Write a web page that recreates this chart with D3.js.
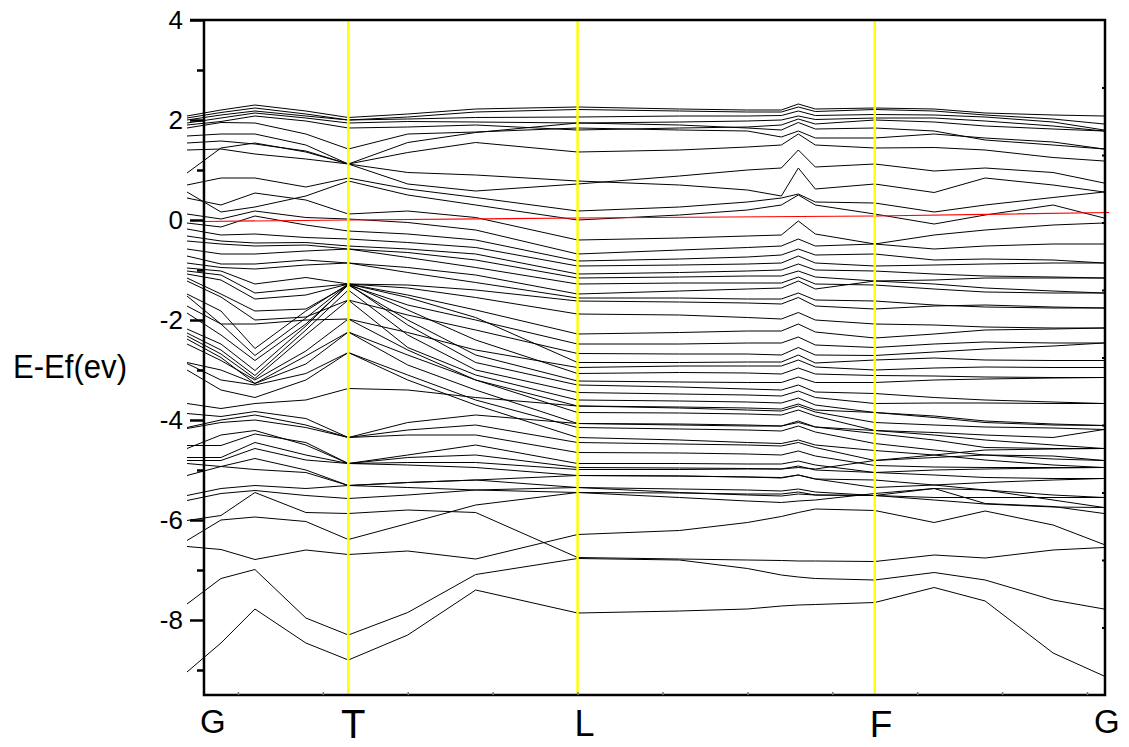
<!DOCTYPE html>
<html>
<head>
<meta charset="utf-8">
<script src="https://cdn.jsdelivr.net/npm/d3@7"></script>
<style>
  body { margin: 0; background: #fff; }
  svg { display: block; }
  text { font-family: "Liberation Sans", Arial, sans-serif; fill: #000; }
</style>
</head>
<body>
<svg id="chart" width="1129" height="747"></svg>
<script>
// k-point positions (index along the path) where band energies were read
var kNodes = [0, 2, 4, 7, 9.5, 13, 17, 23, 29, 33, 35, 36, 37, 40.5, 44, 47, 51, 54];

// band energies (eV, relative to Ef) at each k node
var bands = [
  [2.08, 2.20, 2.30, 2.18, 2.05, 2.12, 2.22, 2.26, 2.22, 2.20, 2.20, 2.32, 2.22, 2.24, 2.22, 2.14, 2.10, 2.08],
  [2.04, 2.15, 2.24, 2.12, 2.00, 2.06, 2.16, 2.21, 2.18, 2.16, 2.16, 2.26, 2.17, 2.21, 2.18, 2.10, 2.02, 1.92],
  [2.00, 2.10, 2.18, 2.08, 2.00, 2.02, 2.05, 2.06, 2.08, 2.08, 2.09, 2.18, 2.09, 2.11, 2.10, 2.06, 1.96, 1.80],
  [1.94, 2.04, 2.14, 2.04, 1.94, 1.97, 1.96, 1.94, 1.96, 1.98, 2.00, 2.08, 2.01, 2.04, 2.04, 1.98, 1.88, 1.78],
  [1.90, 1.97, 2.08, 1.98, 1.84, 1.86, 1.90, 1.80, 1.84, 1.86, 1.90, 2.02, 1.92, 2.00, 1.96, 1.88, 1.82, 1.78],
  [1.84, 1.95, 1.94, 1.72, 1.42, 1.72, 1.76, 1.84, 1.80, 1.78, 1.66, 1.78, 1.64, 1.64, 1.72, 1.64, 1.56, 1.42],
  [1.68, 1.72, 1.72, 1.50, 1.12, 1.35, 1.55, 1.36, 1.40, 1.46, 1.50, 1.72, 1.50, 1.44, 1.45, 1.40, 1.25, 1.18],
  [1.54, 1.58, 1.52, 1.38, 1.12, 1.55, 1.75, 1.94, 1.90, 1.84, 1.80, 1.95, 1.82, 1.84, 1.78, 1.60, 1.50, 1.42],
  [1.40, 1.42, 1.32, 1.22, 1.12, 0.95, 0.90, 0.78, 0.70, 0.60, 0.48, 1.04, 0.62, 0.72, 0.55, 0.84, 0.70, 0.56],
  [0.94, 1.44, 1.54, 1.36, 1.12, 0.72, 0.58, 0.72, 0.88, 1.00, 1.04, 1.40, 1.06, 1.12, 0.98, 1.04, 0.95, 0.74],
  [0.70, 0.84, 0.84, 0.66, 0.84, 0.62, 0.45, 0.18, 0.26, 0.36, 0.44, 0.52, 0.36, 0.34, 0.16, 0.30, 0.45, 0.56],
  [0.56, 0.16, 0.26, 0.48, 0.78, 0.50, 0.30, 0.00, 0.10, 0.20, 0.30, 0.50, 0.30, 0.12, -0.08, 0.10, 0.30, 0.04],
  [0.44, 0.30, 0.54, 0.40, 0.12, 0.18, 0.05, -0.40, -0.36, -0.32, -0.30, -0.02, -0.28, -0.48, -0.30, -0.20, -0.10, -0.06],
  [0.12, 0.02, 0.18, 0.05, 0.02, -0.05, -0.20, -0.68, -0.60, -0.55, -0.52, -0.38, -0.52, -0.48, -0.58, -0.52, -0.48, -0.48],
  [-0.06, -0.14, 0.08, -0.10, -0.22, -0.28, -0.40, -0.82, -0.78, -0.74, -0.70, -0.58, -0.70, -0.68, -0.80, -0.78, -0.80, -0.86],
  [-0.18, -0.30, -0.28, -0.35, -0.38, -0.45, -0.55, -0.92, -0.90, -0.88, -0.86, -0.72, -0.86, -0.92, -0.90, -0.88, -0.86, -0.86],
  [-0.32, -0.42, -0.46, -0.45, -0.52, -0.58, -0.68, -1.08, -1.05, -1.02, -1.00, -0.88, -1.00, -1.02, -1.08, -1.12, -1.14, -1.16],
  [-0.42, -0.48, -0.52, -0.50, -0.58, -0.65, -0.80, -1.16, -1.14, -1.12, -1.12, -1.02, -1.14, -1.22, -1.20, -1.16, -1.16, -1.16],
  [-0.58, -0.68, -0.68, -0.62, -0.58, -0.75, -0.95, -1.28, -1.26, -1.26, -1.26, -1.14, -1.28, -1.30, -1.38, -1.44, -1.46, -1.46],
  [-0.72, -0.88, -0.88, -0.80, -0.86, -0.95, -1.10, -1.48, -1.42, -1.38, -1.36, -1.22, -1.38, -1.22, -1.28, -1.36, -1.42, -1.46],
  [-0.86, -0.95, -0.98, -0.90, -0.86, -1.05, -1.25, -1.56, -1.56, -1.58, -1.58, -1.46, -1.60, -1.62, -1.70, -1.74, -1.76, -1.76],
  [-0.96, -1.02, -1.28, -1.15, -1.28, -1.30, -1.40, -1.62, -1.64, -1.66, -1.68, -1.55, -1.72, -1.78, -1.72, -1.70, -1.74, -1.76],
  [-1.02, -1.10, -1.46, -1.36, -1.28, -1.36, -1.55, -1.88, -1.90, -1.95, -1.98, -1.85, -2.00, -2.08, -2.10, -2.14, -2.16, -2.16],
  [-1.08, -1.20, -1.58, -1.50, -1.28, -1.50, -1.80, -2.28, -2.25, -2.22, -2.22, -2.08, -2.24, -2.36, -2.28, -2.20, -2.18, -2.16],
  [-1.16, -1.48, -1.82, -1.78, -1.30, -1.70, -2.00, -2.48, -2.48, -2.46, -2.46, -2.34, -2.50, -2.55, -2.48, -2.44, -2.46, -2.46],
  [-1.22, -1.54, -2.00, -1.94, -1.60, -1.90, -2.20, -2.67, -2.68, -2.68, -2.70, -2.55, -2.70, -2.71, -2.64, -2.58, -2.52, -2.46],
  [-1.48, -1.82, -2.57, -1.82, -1.28, -1.55, -1.95, -2.85, -2.85, -2.84, -2.84, -2.70, -2.86, -2.80, -2.76, -2.80, -2.81, -2.81],
  [-1.52, -2.08, -2.08, -2.00, -1.98, -2.25, -2.60, -2.95, -2.92, -2.92, -2.92, -2.80, -2.94, -3.00, -2.96, -2.94, -2.95, -2.95],
  [-1.72, -2.08, -2.71, -1.96, -1.28, -1.80, -2.40, -3.07, -3.05, -3.06, -3.08, -2.96, -3.08, -3.11, -3.12, -3.14, -3.15, -3.15],
  [-1.86, -2.30, -2.81, -2.08, -1.30, -2.00, -2.70, -3.22, -3.24, -3.25, -3.25, -3.14, -3.25, -3.25, -3.20, -3.18, -3.16, -3.15],
  [-2.18, -2.48, -3.01, -2.12, -1.28, -2.10, -2.85, -3.30, -3.34, -3.38, -3.40, -3.30, -3.44, -3.47, -3.55, -3.60, -3.64, -3.67],
  [-2.26, -2.60, -3.11, -2.20, -1.40, -2.30, -3.00, -3.45, -3.48, -3.50, -3.52, -3.42, -3.55, -3.67, -3.66, -3.66, -3.67, -3.67],
  [-2.32, -2.68, -3.17, -2.30, -1.60, -2.55, -3.10, -3.60, -3.62, -3.64, -3.66, -3.56, -3.70, -3.85, -3.92, -4.02, -4.08, -4.11],
  [-2.38, -2.75, -3.27, -2.72, -2.24, -2.70, -3.20, -3.72, -3.76, -3.80, -3.82, -3.72, -3.84, -4.05, -4.10, -4.14, -4.16, -4.19],
  [-2.48, -2.81, -3.20, -2.62, -1.98, -2.60, -3.20, -3.85, -3.86, -3.88, -3.90, -3.80, -3.92, -4.21, -4.30, -4.40, -4.50, -4.57],
  [-2.85, -3.00, -3.27, -2.88, -2.24, -2.90, -3.40, -4.07, -4.08, -4.10, -4.12, -4.02, -4.14, -4.27, -4.40, -4.55, -4.57, -4.57],
  [-2.87, -3.20, -3.30, -3.07, -2.65, -3.10, -3.60, -4.15, -4.18, -4.20, -4.22, -4.12, -4.24, -4.47, -4.60, -4.70, -4.78, -4.81],
  [-3.00, -3.40, -3.55, -3.20, -2.65, -3.20, -3.70, -4.35, -4.40, -4.45, -4.47, -4.40, -4.50, -4.61, -4.70, -4.80, -4.90, -4.95],
  [-3.67, -3.77, -3.67, -3.60, -3.37, -3.40, -3.55, -3.72, -3.74, -3.76, -3.78, -3.68, -3.80, -3.85, -3.95, -4.05, -4.10, -4.11],
  [-3.87, -3.93, -3.83, -3.97, -4.35, -4.05, -3.90, -4.07, -4.10, -4.12, -4.12, -4.05, -4.14, -4.21, -4.25, -4.30, -4.35, -4.19],
  [-4.15, -4.00, -3.90, -4.10, -4.35, -4.20, -4.10, -4.45, -4.48, -4.50, -4.52, -4.45, -4.55, -4.81, -4.75, -4.70, -4.72, -4.81],
  [-4.17, -4.05, -4.00, -4.15, -4.35, -4.30, -4.30, -4.65, -4.66, -4.68, -4.70, -4.62, -4.72, -4.91, -4.94, -4.95, -4.95, -4.95],
  [-4.51, -4.51, -4.28, -4.45, -4.87, -4.70, -4.50, -4.87, -4.87, -4.88, -4.88, -4.82, -4.90, -5.05, -5.10, -5.15, -5.17, -5.17],
  [-4.57, -4.30, -4.21, -4.50, -4.87, -4.75, -4.70, -4.95, -4.96, -4.97, -4.98, -4.92, -5.00, -5.05, -5.00, -4.98, -4.96, -4.95],
  [-4.75, -4.75, -4.45, -4.70, -4.87, -4.85, -4.85, -4.99, -4.99, -4.98, -4.98, -4.95, -4.98, -4.81, -4.70, -4.60, -4.58, -4.57],
  [-4.81, -4.81, -4.57, -4.80, -4.87, -4.90, -4.95, -5.11, -5.12, -5.14, -5.15, -5.10, -5.18, -5.35, -5.30, -5.25, -5.20, -5.17],
  [-4.87, -4.93, -4.99, -5.05, -5.31, -5.25, -5.20, -5.35, -5.38, -5.40, -5.42, -5.38, -5.44, -5.51, -5.55, -5.55, -5.55, -5.55],
  [-5.11, -4.93, -4.77, -5.00, -5.31, -5.35, -5.40, -5.45, -5.46, -5.48, -5.48, -5.44, -5.50, -5.51, -5.60, -5.68, -5.74, -5.75],
  [-5.51, -5.37, -5.31, -5.37, -5.31, -5.25, -5.20, -5.11, -5.12, -5.14, -5.16, -5.10, -5.18, -5.20, -5.30, -5.40, -5.50, -5.55],
  [-5.61, -5.47, -5.41, -5.51, -5.57, -5.50, -5.40, -5.35, -5.45, -5.50, -5.52, -5.48, -5.50, -5.51, -5.37, -5.40, -5.60, -5.75],
  [-6.01, -5.91, -5.45, -5.85, -5.87, -5.80, -5.85, -6.75, -6.78, -6.80, -6.81, -6.82, -6.82, -6.83, -6.70, -6.76, -6.60, -6.55],
  [-6.41, -6.00, -5.94, -6.03, -6.39, -6.07, -5.70, -5.45, -5.55, -5.62, -5.65, -5.62, -5.60, -5.47, -5.37, -5.67, -5.73, -5.87],
  [-6.53, -6.59, -6.79, -6.60, -6.69, -6.62, -6.78, -6.29, -6.21, -6.05, -5.93, -5.85, -5.78, -5.81, -6.05, -5.82, -6.10, -6.49],
  [-7.68, -7.17, -6.99, -7.96, -8.30, -7.85, -7.09, -6.77, -6.80, -6.97, -7.10, -7.14, -7.17, -7.20, -7.05, -7.20, -7.60, -7.78],
  [-9.04, -8.46, -7.78, -8.46, -8.80, -8.30, -7.40, -7.86, -7.82, -7.78, -7.72, -7.70, -7.69, -7.65, -7.35, -7.62, -8.66, -9.12]
];

// Fermi level line (red)
var fermiK = [1, 9.5, 23, 40.5, 54.3];
var fermiE = [-0.03, 0.0, 0.04, 0.08, 0.15];

// high-symmetry points
var symLabels = ["G", "T", "L", "F", "G"];
var symK = [1, 9.5, 23, 40.5, 54];

var majorTicks = [4, 2, 0, -2, -4, -6, -8];
var minorTicks = [3, 1, -1, -3, -5, -7, -9];
var rightTicks = [-8.15, -6.8, -5.45, -4.1, -2.75, -1.4, -0.05, 1.3, 2.65];
var bottomTicks = [3, 8, 13, 18, 23, 28, 33, 38, 43, 48, 53];

var svg = d3.select("#chart");

var x = d3.scaleLinear().domain([0, 54]).range([187, 1104]);
var y = d3.scaleLinear().domain([-9.5, 4]).range([695, 20]);

var x0 = x(1), x1 = x(54) + 1, yTop = y(4), yBot = y(-9.5);

// bands
var line = d3
  .line()
  .x(function (d, i) {
    return x(kNodes[i]);
  })
  .y(function (d) {
    return y(d);
  });

svg
  .append("g")
  .selectAll("path")
  .data(bands)
  .enter()
  .append("path")
  .attr("d", line)
  .attr("fill", "none")
  .attr("stroke", "#000")
  .attr("stroke-width", 1);

// Fermi level
svg
  .append("path")
  .attr(
    "d",
    d3
      .line()
      .x(function (d, i) {
        return x(fermiK[i]);
      })
      .y(function (d) {
        return y(d);
      })(fermiE)
  )
  .attr("fill", "none")
  .attr("stroke", "#ff0000")
  .attr("stroke-width", 1.2);

// symmetry lines
svg
  .selectAll("line.sym")
  .data(symK.slice(1, 4))
  .enter()
  .append("line")
  .attr("class", "sym")
  .attr("x1", function (d) { return x(d); })
  .attr("x2", function (d) { return x(d); })
  .attr("y1", yTop)
  .attr("y2", yBot + 1)
  .attr("stroke", "#ffff00")
  .attr("stroke-width", 2.5);

// frame
svg
  .append("path")
  .attr("d", "M" + (x0 - 14) + "," + yTop + "H" + x1 + "V" + yBot + "H" + x0 + "V" + yTop)
  .attr("fill", "none")
  .attr("stroke", "#000")
  .attr("stroke-width", 2.5);

// left axis, major ticks with labels
var left = svg
  .append("g")
  .attr("transform", "translate(" + x0 + ",0)")
  .call(
    d3
      .axisLeft(y)
      .tickValues(majorTicks)
      .tickSize(14)
      .tickPadding(7)
      .tickFormat(function (d) {
        return String(d);
      })
  );
left.select(".domain").remove();
left.selectAll("line").attr("stroke-width", 2.5);
left
  .selectAll("text")
  .style("font-family", '"Liberation Sans", Arial, sans-serif')
  .style("font-size", "26px")
  .attr("fill", "#000");

// left axis minor ticks
var leftMinor = svg
  .append("g")
  .attr("transform", "translate(" + x0 + ",0)")
  .call(d3.axisLeft(y).tickValues(minorTicks).tickSize(7).tickFormat(""));
leftMinor.select(".domain").remove();
leftMinor.selectAll("line").attr("stroke-width", 2.5);

// right axis small inner ticks
var right = svg
  .append("g")
  .attr("transform", "translate(" + x1 + ",0)")
  .call(d3.axisLeft(y).tickValues(rightTicks).tickSize(3).tickFormat(""));
right.select(".domain").remove();
right.selectAll("line").attr("stroke-width", 2);

// bottom axis small inner ticks
var bottom = svg
  .append("g")
  .attr("transform", "translate(0," + yBot + ")")
  .call(d3.axisTop(x).tickValues(bottomTicks).tickSize(3).tickFormat(""));
bottom.select(".domain").remove();
bottom.selectAll("line").attr("stroke", "#777").attr("stroke-width", 1.5);

// k-point labels
var labelStyle = [
  { size: 33, dy: 733, dx: -4, anchor: "start" },
  { size: 40, dy: 738, dx: 5, anchor: "middle" },
  { size: 36, dy: 736, dx: -3, anchor: "start" },
  { size: 37, dy: 737, dx: -5, anchor: "start" },
  { size: 33, dy: 733, dx: -10, anchor: "start" }
];
svg
  .selectAll("text.sym")
  .data(symLabels)
  .enter()
  .append("text")
  .attr("class", "sym")
  .attr("x", function (d, i) {
    return x(symK[i]) + labelStyle[i].dx;
  })
  .attr("y", function (d, i) {
    return labelStyle[i].dy;
  })
  .attr("text-anchor", function (d, i) {
    return labelStyle[i].anchor;
  })
  .style("font-size", function (d, i) {
    return labelStyle[i].size + "px";
  })
  .text(function (d) {
    return d;
  });

// y title
svg
  .append("text")
  .attr("x", 13)
  .attr("y", 378)
  .attr("textLength", 114)
  .attr("lengthAdjust", "spacingAndGlyphs")
  .style("font-size", "34px")
  .text("E-Ef(ev)");
</script>
</body>
</html>
